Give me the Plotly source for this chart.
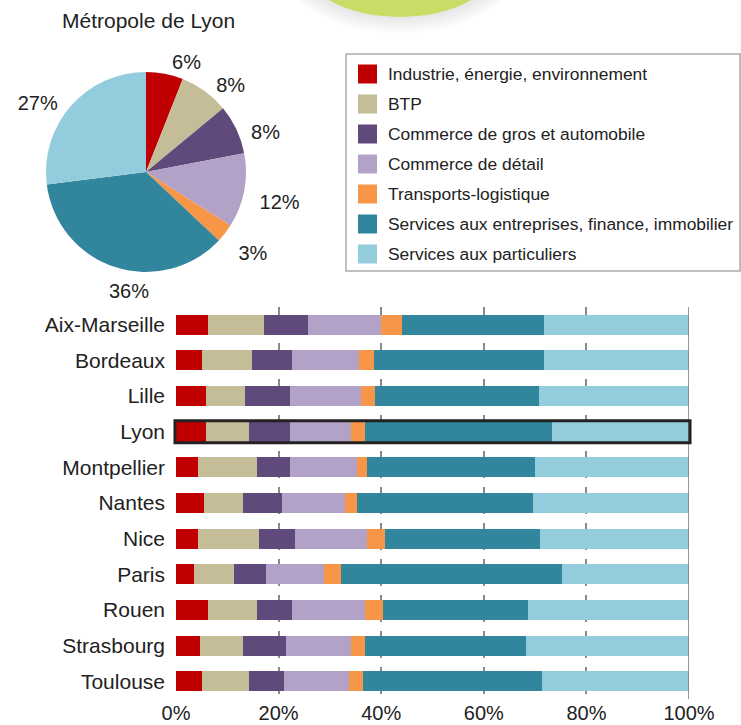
import math

import plotly.graph_objects as go

W, H = 741, 725

cities = ["Aix-Marseille", "Bordeaux", "Lille", "Lyon", "Montpellier", "Nantes",
          "Nice", "Paris", "Rouen", "Strasbourg", "Toulouse"]

sector_names = [
    "Industrie, énergie, environnement",
    "BTP",
    "Commerce de gros et automobile",
    "Commerce de détail",
    "Transports-logistique",
    "Services aux entreprises, finance, immobilier",
    "Services aux particuliers",
]
sector_colors = ["#C00000", "#C4BD97", "#604A7B", "#B3A2C7", "#F79646", "#31859C", "#93CDDD"]

# shares (%) per city, same order as cities
industrie = [6.2, 5.0, 5.8, 5.8, 4.2, 5.4, 4.2, 3.5, 6.2, 4.6, 5.0]
btp = [11.0, 9.9, 7.6, 8.4, 11.5, 7.6, 11.9, 7.9, 9.5, 8.4, 9.2]
commerce_gros = [8.6, 7.8, 8.9, 8.1, 6.6, 7.7, 7.0, 6.2, 7.0, 8.5, 6.9]
commerce_detail = [14.2, 13.0, 13.8, 11.9, 13.0, 12.3, 14.2, 11.3, 14.2, 12.7, 12.7]
transports = [4.0, 2.8, 2.7, 2.6, 2.0, 2.3, 3.5, 3.3, 3.5, 2.7, 2.7]
services_entreprises = [27.8, 33.3, 31.9, 36.5, 32.6, 34.2, 30.2, 43.1, 28.3, 31.4, 34.9]
services_particuliers = [28.2, 28.2, 29.3, 26.7, 30.1, 30.5, 29.0, 24.7, 31.3, 31.7, 28.6]

# Métropole de Lyon pie
pie_values = [6, 8, 8, 12, 3, 36, 27]

x_ticks = [0, 20, 40, 60, 80, 100]
x_tick_labels = ["0%", "20%", "40%", "60%", "80%", "100%"]

FONT = "Liberation Sans, Arial, sans-serif"
TEXT = "#222222"

# pie geometry (pixels)
PIE_CX, PIE_CY, PIE_R = 146, 172, 100


def px(x):
    return x / W


def py(y):
    return 1 - y / H


series = [industrie, btp, commerce_gros, commerce_detail, transports,
          services_entreprises, services_particuliers]

fig = go.Figure()

for name, color, values in zip(sector_names, sector_colors, series):
    fig.add_bar(
        y=cities,
        x=values,
        orientation="h",
        name=name,
        marker_color=color,
        marker_line_width=0,
        showlegend=False,
        hoverinfo="x+y+name",
    )

# visible pie, no text
fig.add_trace(go.Pie(
    values=pie_values,
    labels=sector_names,
    marker=dict(colors=sector_colors, line=dict(width=0)),
    sort=False,
    direction="clockwise",
    rotation=0,
    textinfo="none",
    domain=dict(x=[px(PIE_CX - PIE_R), px(PIE_CX + PIE_R)], y=[py(PIE_CY + PIE_R), py(PIE_CY - PIE_R)]),
    showlegend=False,
    automargin=False,
))

# mid angle of each slice (degrees clockwise from 12 o'clock)
total = sum(pie_values)
mids = []
acc = 0
for v in pie_values:
    mids.append((acc + v / 2) / total * 360)
    acc += v

# plotly hangs labels of near-bottom slices off a corner; those get a centred annotation instead
bottom = [150 < a < 210 for a in mids]
label_text = ["" if b else f"{v}%" for v, b in zip(pie_values, bottom)]

# transparent, slightly larger copy that only carries the labels (pushes them further out)
fig.add_trace(go.Pie(
    values=pie_values,
    labels=sector_names,
    marker=dict(colors=["rgba(0,0,0,0)"] * len(pie_values), line=dict(width=0)),
    sort=False,
    direction="clockwise",
    rotation=0,
    textposition="outside",
    text=label_text,
    texttemplate="%{text}",
    textfont=dict(size=20, color=TEXT, family=FONT),
    domain=dict(x=[px(36), px(256)], y=[py(291), py(71)]),
    showlegend=False,
    automargin=False,
    hoverinfo="skip",
))

for v, a, b in zip(pie_values, mids, bottom):
    if not b:
        continue
    r = PIE_R + 25
    lx = PIE_CX + r * math.sin(math.radians(a))
    ly = PIE_CY - r * math.cos(math.radians(a))
    fig.add_annotation(text=f"{v}%", x=px(lx), y=py(ly), xref="paper", yref="paper",
                       showarrow=False, font=dict(size=20, color=TEXT))

fig.update_layout(
    width=W,
    height=H,
    margin=dict(l=0, r=0, t=0, b=0),
    paper_bgcolor="white",
    plot_bgcolor="white",
    barmode="stack",
    bargap=0.44,
    font=dict(family=FONT, color=TEXT),
    xaxis=dict(
        domain=[px(176), px(689)],
        range=[0, 100],
        tickvals=x_ticks,
        ticktext=x_tick_labels,
        tickfont=dict(size=20, color=TEXT),
        showgrid=True,
        gridcolor="#8a8a8a",
        gridwidth=1.5,
        griddash="dash",
        zeroline=False,
        showline=False,
        ticks="",
        automargin=False,
    ),
    yaxis=dict(
        domain=[py(699), py(307)],
        autorange="reversed",
        tickfont=dict(size=21, color=TEXT),
        ticks="",
        ticklabelstandoff=10,
        showgrid=False,
        zeroline=False,
        automargin=False,
    ),
)

# solid line closing the 100% side
fig.add_shape(type="line", xref="x", yref="y domain", x0=100, x1=100, y0=0, y1=1,
              line=dict(color="#777777", width=1.5))

# highlight Lyon (domain refs so the box is not clipped at the plot edges)
lyon = cities.index("Lyon")
n = len(cities)
yc = 1 - (lyon + 0.5) / n
fig.add_shape(type="rect", xref="x domain", yref="y domain",
              x0=-0.002, x1=1.002, y0=yc - 0.31 / n, y1=yc + 0.31 / n,
              line=dict(color="#222222", width=3))

# pie title
fig.add_annotation(text="Métropole de Lyon", x=px(148), y=py(20), xref="paper", yref="paper",
                   showarrow=False, font=dict(size=21, color=TEXT), xanchor="center", yanchor="middle")

# legend box, drawn by hand to match the original spacing
fig.add_shape(type="rect", xref="paper", yref="paper", x0=px(346), x1=px(740), y0=py(271), y1=py(54),
              line=dict(color="#aaaaaa", width=1.5), fillcolor="white", layer="below")
for i, (name, color) in enumerate(zip(sector_names, sector_colors)):
    row_y = 74 + i * 30
    fig.add_shape(type="rect", xref="paper", yref="paper", x0=px(358), x1=px(377),
                  y0=py(row_y + 9.5), y1=py(row_y - 9.5), fillcolor=color, line_width=0)
    fig.add_annotation(text=name, x=px(386), y=py(row_y), xref="paper", yref="paper",
                       showarrow=False, xanchor="left", yanchor="middle",
                       font=dict(size=17.4, color=TEXT))

# decorative green disc at the top of the page, with a soft shadow
for k in range(8, 0, -1):
    fig.add_shape(type="circle", xref="paper", yref="paper",
                  x0=px(298 - 2.2 * k), x1=px(502 + 2.2 * k), y0=py(17 + 2 * k), y1=py(-103),
                  fillcolor="rgba(110,110,110,0.025)", line_width=0, layer="below")
fig.add_shape(type="circle", xref="paper", yref="paper", x0=px(298), x1=px(502), y0=py(17), y1=py(-103),
              fillcolor="#C9DD66", line_width=0, layer="below")

# drop the default body margin so the figure fills the window exactly
fig.write_html("out.html", config={"displayModeBar": False},
               post_script="document.body.style.margin='0px';")
